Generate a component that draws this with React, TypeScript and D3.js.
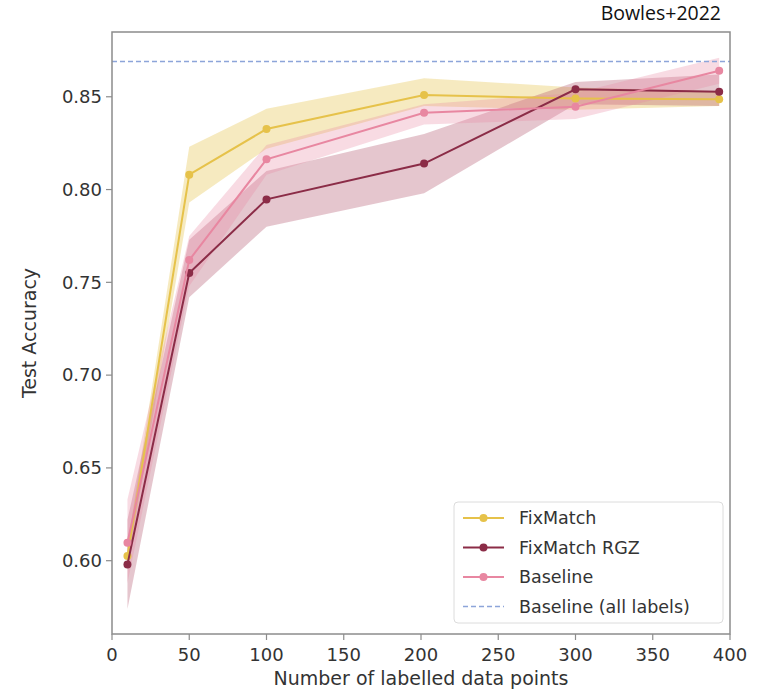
import React from "react";
import * as d3 from "d3";

// labelled data points used in each run
const xValues = [10, 50, 100, 202, 300, 393];

const fixMatchMean = [0.6025, 0.808, 0.8326, 0.851, 0.849, 0.8486];
const fixMatchLow = [0.597, 0.793, 0.822, 0.845, 0.843, 0.845];
const fixMatchHigh = [0.608, 0.823, 0.8435, 0.86, 0.855, 0.853];

const rgzMean = [0.598, 0.755, 0.7947, 0.814, 0.854, 0.8527];
const rgzLow = [0.574, 0.742, 0.78, 0.798, 0.846, 0.845];
const rgzHigh = [0.622, 0.773, 0.81, 0.83, 0.858, 0.862];

const baselineMean = [0.6097, 0.762, 0.8163, 0.8414, 0.8446, 0.864];
const baselineLow = [0.588, 0.748, 0.808, 0.835, 0.838, 0.857];
const baselineHigh = [0.633, 0.775, 0.824, 0.846, 0.852, 0.871];

const allLabelsBaseline = 0.869;

const xTicks = [0, 50, 100, 150, 200, 250, 300, 350, 400];
const yTicks = [0.6, 0.65, 0.7, 0.75, 0.8, 0.85];

const series = [
  { name: "FixMatch", mean: fixMatchMean, low: fixMatchLow, high: fixMatchHigh, color: "#e6c24a", fill: "#e6c24a", alpha: 0.35 },
  { name: "FixMatch RGZ", mean: rgzMean, low: rgzLow, high: rgzHigh, color: "#8b2c47", fill: "#a8435e", alpha: 0.3 },
  { name: "Baseline", mean: baselineMean, low: baselineLow, high: baselineHigh, color: "#e887a1", fill: "#e887a1", alpha: 0.3 },
];

const W = 765;
const H = 700;
const plot = { left: 112, right: 730, top: 32, bottom: 634 };
const font = "'DejaVu Sans', sans-serif";
const textColor = "#333";

export default function App() {
  const x = d3.scaleLinear().domain([0, 400]).range([plot.left, plot.right]);
  const y = d3.scaleLinear().domain([0.5605, 0.8849]).range([plot.bottom, plot.top]);

  const line = d3
    .line<number>()
    .x((_, i) => x(xValues[i]))
    .y((d) => y(d));

  const band = (low: number[], high: number[]) =>
    d3
      .area<number>()
      .x((_, i) => x(xValues[i]))
      .y0((_, i) => y(low[i]))
      .y1((_, i) => y(high[i]))(xValues) || "";

  const legendX = 454;
  const legendY = 502;
  const rowH = 29.5;

  return (
    <svg width={W} height={H} style={{ position: "absolute", left: 0, top: 0, background: "#fff" }}>
      <text x={721} y={20} textAnchor="end" fontFamily="'Open Sans', 'Liberation Sans', sans-serif" fontSize={19.5} fill="#111">
        Bowles+2022
      </text>

      {/* bands */}
      {series.map((s) => (
        <path key={s.name + "-band"} d={band(s.low, s.high)} fill={s.fill} fillOpacity={s.alpha} stroke="none" />
      ))}

      {/* all-labels reference */}
      <line
        x1={plot.left}
        x2={plot.right}
        y1={y(allLabelsBaseline)}
        y2={y(allLabelsBaseline)}
        stroke="#8da5d9"
        strokeWidth={1.5}
        strokeDasharray="5,3"
      />

      {series.map((s) => (
        <g key={s.name}>
          <path d={line(s.mean) || ""} fill="none" stroke={s.color} strokeWidth={2} />
          {s.mean.map((v, i) => (
            <circle key={i} cx={x(xValues[i])} cy={y(v)} r={4} fill={s.color} />
          ))}
        </g>
      ))}

      {/* frame */}
      <rect
        x={plot.left}
        y={plot.top}
        width={plot.right - plot.left}
        height={plot.bottom - plot.top}
        fill="none"
        stroke="#8c8c8c"
        strokeWidth={1.5}
      />

      {/* x axis */}
      {xTicks.map((t) => (
        <g key={t}>
          <line x1={x(t)} x2={x(t)} y1={plot.bottom} y2={plot.bottom + 6} stroke="#8c8c8c" strokeWidth={1.2} />
          <text x={x(t)} y={plot.bottom + 27} textAnchor="middle" fontFamily={font} fontSize={18} fill={textColor}>
            {t}
          </text>
        </g>
      ))}
      <text x={(plot.left + plot.right) / 2} y={685} textAnchor="middle" fontFamily={font} fontSize={19} fill={textColor}>
        Number of labelled data points
      </text>

      {/* y axis */}
      {yTicks.map((t) => (
        <g key={t}>
          <line x1={plot.left - 6} x2={plot.left} y1={y(t)} y2={y(t)} stroke="#8c8c8c" strokeWidth={1.2} />
          <text x={plot.left - 10} y={y(t)} dy="0.35em" textAnchor="end" fontFamily={font} fontSize={18} fill={textColor}>
            {d3.format(".2f")(t)}
          </text>
        </g>
      ))}
      <text
        transform={`translate(36, ${(plot.top + plot.bottom) / 2}) rotate(-90)`}
        textAnchor="middle"
        fontFamily={font}
        fontSize={19}
        fill={textColor}
      >
        Test Accuracy
      </text>

      {/* legend */}
      <rect x={legendX} y={legendY} width={269} height={121} rx={4} fill="#fff" fillOpacity={0.85} stroke="#dcdcdc" />
      {series.map((s, i) => {
        const cy = legendY + 16 + i * rowH;
        return (
          <g key={s.name + "-leg"}>
            <line x1={legendX + 9} x2={legendX + 50} y1={cy} y2={cy} stroke={s.color} strokeWidth={2} />
            <circle cx={legendX + 29.5} cy={cy} r={4} fill={s.color} />
            <text x={legendX + 65} y={cy} dy="0.35em" fontFamily={font} fontSize={17.5} fill={textColor}>
              {s.name}
            </text>
          </g>
        );
      })}
      <line
        x1={legendX + 9}
        x2={legendX + 50}
        y1={legendY + 16 + 3 * rowH}
        y2={legendY + 16 + 3 * rowH}
        stroke="#8da5d9"
        strokeWidth={1.5}
        strokeDasharray="5,3"
      />
      <text x={legendX + 65} y={legendY + 16 + 3 * rowH} dy="0.35em" fontFamily={font} fontSize={17.5} fill={textColor}>
        Baseline (all labels)
      </text>
    </svg>
  );
}
